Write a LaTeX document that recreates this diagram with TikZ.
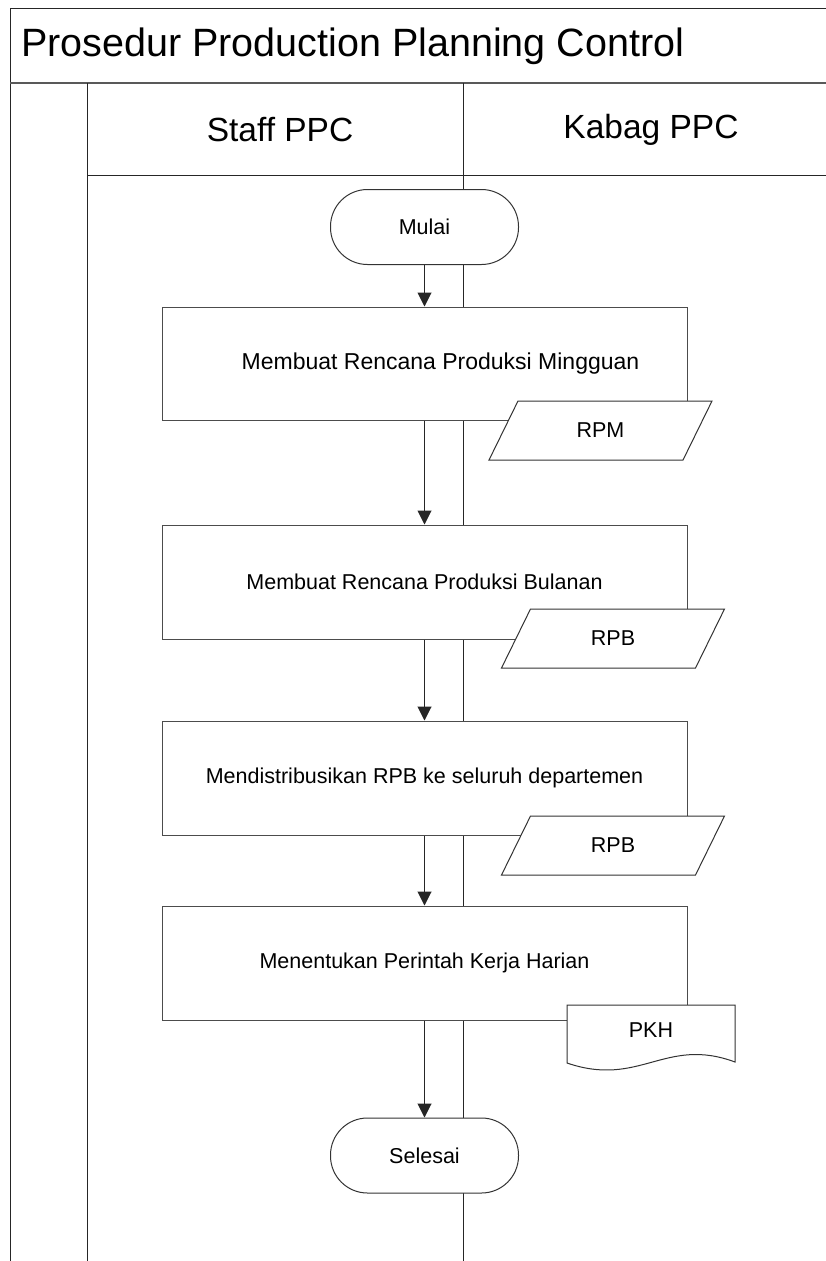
\documentclass[tikz,border=0pt]{standalone}
\usepackage{fontspec}
\setmainfont{Liberation Sans}
\usetikzlibrary{arrows.meta}
\newcommand\iopara[3]{%
  \coordinate (#1c) at (#2);
  \draw[io] ([shift={(-82.5,-29.5)}]#1c) -- ([shift={(111.5,-29.5)}]#1c) -- ([shift={(82.5,29.5)}]#1c) -- ([shift={(-111.5,29.5)}]#1c) -- cycle;
  \node[lbl] (#1) at (#1c) {#3};
}
\begin{document}
\begin{tikzpicture}[x=1pt,y=-1pt,
  frame/.style={line width=1pt,draw=black!85},
  proc/.style={draw=black!70,line width=1pt,fill=white,minimum width=525pt,minimum height=114pt,inner sep=0pt,font=\fontsize{21.5}{26}\selectfont},
  term/.style={draw=black!80,line width=1pt,fill=white,minimum width=188pt,minimum height=75pt,rounded corners=37pt,inner sep=0pt,font=\fontsize{21.5}{26}\selectfont},
  io/.style={draw=black!80,line width=1pt,fill=white},
  lbl/.style={font=\fontsize{21.5}{26}\selectfont,inner sep=0pt},
  head/.style={font=\fontsize{33.5}{38}\selectfont,inner sep=0pt},
  flow/.style={line width=1pt,draw=black!85,-{Triangle[width=14pt,length=14pt]}},
]
\useasboundingbox (0,0) rectangle (826,1261);
\clip (0,0) rectangle (826,1261);
\fill[white] (0,0) rectangle (826,1261);
% frame
\draw[frame] (10,8) -- (860,8);
\draw[frame] (10,8) -- (10,1280);
\draw[line width=1.6pt,draw=black!65] (10,83) -- (860,83);
\draw[frame] (87,83) -- (87,1280);
\draw[frame] (87,175) -- (860,175);
\draw[frame] (463,83) -- (463,1280);
% headers
\node[head,anchor=west,font=\fontsize{39.5}{46}\selectfont] (title) at (21,46) {Prosedur Production Planning Control};
\node[head] (staff) at (280,130) {Staff PPC};
\node[head] (kabag) at (651,130) {Kabag PPC};
% flow
\node[term] (mulai) at (424.5,227) {Mulai};
\node[proc,minimum height=113pt,font=\fontsize{23}{27}\selectfont] (b1) at (424.5,363.5) {\hspace*{32pt}Membuat Rencana Produksi Mingguan};
\node[proc] (b2) at (424.5,582) {Membuat Rencana Produksi Bulanan};
\node[proc] (b3) at (424.5,778) {Mendistribusikan RPB ke seluruh departemen};
\node[proc] (b4) at (424.5,963) {Menentukan Perintah Kerja Harian};
\node[term] (selesai) at (424.5,1155.5) {Selesai};
\iopara{rpm}{600.5,430.5}{RPM}
\iopara{rpb}{613,638.5}{RPB}
\iopara{rpbb}{613,845.5}{RPB}
\draw[io] (567,1005) -- (735,1005) -- (735,1062) .. controls (665,1036) and (640,1088) .. (567,1063) -- cycle;
\node[lbl] (pkh) at (651,1030) {PKH};
\draw[flow] (mulai.south) -- (b1.north);
\draw[flow] (b1.south) -- (b2.north);
\draw[flow] (b2.south) -- (b3.north);
\draw[flow] (b3.south) -- (b4.north);
\draw[flow] (b4.south) -- (selesai.north);
\end{tikzpicture}
\end{document}
